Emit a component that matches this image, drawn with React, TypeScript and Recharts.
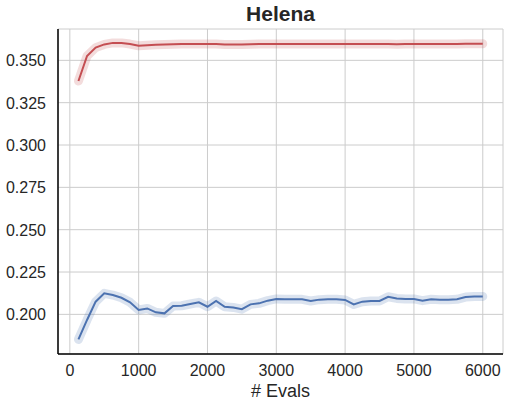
import { LineChart, Line, XAxis, YAxis, CartesianGrid } from "recharts";

const evals = [
  125, 250, 375, 500, 625, 750, 875, 1000, 1125, 1250, 1375, 1500,
  1625, 1750, 1875, 2000, 2125, 2250, 2375, 2500, 2625, 2750, 2875, 3000,
  3125, 3250, 3375, 3500, 3625, 3750, 3875, 4000, 4125, 4250, 4375, 4500,
  4625, 4750, 4875, 5000, 5125, 5250, 5375, 5500, 5625, 5750, 5875, 6000,
];

const redScores = [
  0.3378, 0.3526, 0.3575, 0.3594, 0.3603, 0.3603, 0.3596, 0.3586, 0.3589, 0.3592, 0.3593, 0.3595,
  0.3596, 0.3596, 0.3597, 0.3597, 0.3596, 0.3594, 0.3593, 0.3593, 0.3595, 0.3596, 0.3597, 0.3597,
  0.3597, 0.3597, 0.3597, 0.3597, 0.3596, 0.3597, 0.3597, 0.3597, 0.3597, 0.3597, 0.3597, 0.3596,
  0.3596, 0.3595, 0.3596, 0.3597, 0.3597, 0.3597, 0.3597, 0.3597, 0.3597, 0.3598, 0.3598, 0.3598,
];

const blueScores = [
  0.1852, 0.1967, 0.2075, 0.2124, 0.2114, 0.2098, 0.2071, 0.2026, 0.2035, 0.2012, 0.2006, 0.2049,
  0.2051, 0.2061, 0.2071, 0.2045, 0.2079, 0.2045, 0.2041, 0.2031, 0.2059, 0.2065, 0.2081, 0.2091,
  0.2089, 0.2089, 0.2089, 0.2079, 0.2087, 0.2089, 0.2089, 0.2085, 0.2059, 0.2075, 0.2079, 0.2079,
  0.2104, 0.2094, 0.2091, 0.2091, 0.2081, 0.2089, 0.2087, 0.2087, 0.2089, 0.2102, 0.2106, 0.2106,
];

const xTicks = [0, 1000, 2000, 3000, 4000, 5000, 6000];
const yTicks = [0.2, 0.225, 0.25, 0.275, 0.3, 0.325, 0.35];

const RED = "#c44e52";
const BLUE = "#4c72b0";
const FONT = "'Liberation Sans', Arial, sans-serif";
const TEXT = "#262626";
const TICK_SIZE = 16;

const data = evals.map((e, i) => ({ evals: e, red: redScores[i], blue: blueScores[i] }));

function XTick(props: any) {
  const { x, y, payload } = props;
  return (
    <text x={x} y={y} dy={18} textAnchor="middle" fill={TEXT} fontSize={TICK_SIZE} fontFamily={FONT}>
      {payload.value}
    </text>
  );
}

function YTick(props: any) {
  const { x, y, payload } = props;
  return (
    <text x={x} y={y} dy={6} textAnchor="end" fill={TEXT} fontSize={TICK_SIZE} fontFamily={FONT}>
      {Number(payload.value).toFixed(3)}
    </text>
  );
}

export default function App() {
  return (
    <div style={{ position: "absolute", left: 0, top: 0, width: 510, height: 408, background: "#fff" }}>
      <div
        style={{
          position: "absolute",
          left: 58,
          width: 445,
          top: 2,
          textAlign: "center",
          fontFamily: FONT,
          fontWeight: "bold",
          fontSize: 21,
          color: TEXT,
        }}
      >
        Helena
      </div>
      <LineChart width={510} height={408} data={data} margin={{ top: 29, right: 7, bottom: 0, left: 0 }}>
        <CartesianGrid stroke="#cccccc" strokeWidth={1} horizontal vertical />
        <XAxis
          dataKey="evals"
          type="number"
          domain={[-172, 6294]}
          ticks={xTicks}
          allowDataOverflow
          height={54}
          tickLine={false}
          tickSize={0}
          tickMargin={4}
          axisLine={{ stroke: "#000", strokeWidth: 1.5 }}
          tick={<XTick />}
          label={{ value: "# Evals", position: "insideBottom", offset: 11, fill: TEXT, fontSize: 18, fontFamily: FONT }}
        />
        <XAxis
          xAxisId="top"
          orientation="top"
          dataKey="evals"
          type="number"
          domain={[-172, 6294]}
          height={0}
          tick={false}
          tickLine={false}
          axisLine={{ stroke: "#cccccc" }}
        />
        <YAxis
          type="number"
          domain={[0.1766, 0.3685]}
          ticks={yTicks}
          allowDataOverflow
          width={58}
          tickLine={false}
          tickSize={0}
          tickMargin={12}
          axisLine={{ stroke: "#000", strokeWidth: 1.5 }}
          tick={<YTick />}
        />
        <YAxis
          yAxisId="right"
          orientation="right"
          type="number"
          domain={[0.1766, 0.3685]}
          width={0}
          tick={false}
          tickLine={false}
          axisLine={{ stroke: "#cccccc" }}
        />
        <Line
          dataKey="red"
          stroke={RED}
          strokeOpacity={0.2}
          strokeWidth={9}
          strokeLinecap="round"
          strokeLinejoin="round"
          dot={false}
          isAnimationActive={false}
        />
        <Line
          dataKey="blue"
          stroke={BLUE}
          strokeOpacity={0.2}
          strokeWidth={9}
          strokeLinecap="round"
          strokeLinejoin="round"
          dot={false}
          isAnimationActive={false}
        />
        <Line dataKey="red" stroke={RED} strokeWidth={2} dot={false} isAnimationActive={false} />
        <Line dataKey="blue" stroke={BLUE} strokeWidth={2} dot={false} isAnimationActive={false} />
      </LineChart>
    </div>
  );
}
